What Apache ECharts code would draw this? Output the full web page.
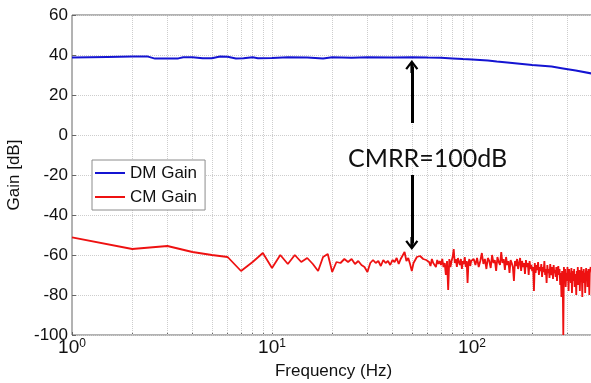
<!DOCTYPE html>
<html><head><meta charset="utf-8">
<script src="https://cdn.jsdelivr.net/npm/echarts@6/dist/echarts.min.js"></script>
<style>html,body{margin:0;padding:0;background:#fff}#c{width:591px;height:383px}</style>
</head><body><div id="c"></div>
<script>
// ---------- data ----------
const seriesNames = ['DM Gain', 'CM Gain'];

// DM gain (blue)
const blueFreq = [1, 1.5, 2, 2.4, 2.6, 3, 3.4, 3.6, 4, 4.5, 5, 5.5, 6, 6.6, 7.2, 8, 8.5, 10, 12, 15, 18, 20, 25, 30, 40, 50, 60, 70, 80, 90, 100, 120, 133, 150, 200, 250, 285, 330, 394];
const blueVals = [38.7, 39.0, 39.2, 39.2, 38.2, 38.2, 38.3, 38.9, 38.9, 38.4, 38.4, 39.2, 39.1, 38.3, 38.4, 38.9, 38.4, 38.5, 38.9, 38.7, 38.3, 38.9, 38.6, 38.9, 38.7, 38.9, 38.7, 38.6, 38.3, 38.0, 37.8, 37.2, 36.7, 36.3, 35.0, 34.2, 33.3, 32.3, 30.8];

// CM gain (red): 1 Hz steps from 1 to 100 Hz
const redLowStart = 1, redLowStep = 1;
const redLowVals = [
  -51.2, -57, -55.5, -58.5, -60, -61, -68, -63.5, -59, -66.5,
  -60, -64.5, -60, -63.5, -61.5, -64.5, -68, -61, -59.5, -68.5,
  -63.5, -64, -62, -63.5, -62, -64.5, -63, -65, -66, -68.5,
  -64, -62.5, -64, -63, -65.5, -62.5, -64, -63, -65, -62.5,
  -63.5, -61.5, -64.5, -62, -63, -58.5, -63, -61.5, -64.5, -68,
  -64, -62.5, -61, -62, -60.5, -61.5, -62, -61, -62.5, -61.5,
  -63.5, -65.5, -62, -64, -63, -66, -62.5, -64.5, -63, -65,
  -62, -66, -64, -70, -63, -77.5, -62, -66, -63, -61,
  -57, -64, -62, -66, -61.5, -63.5, -65, -62, -67, -63,
  -64.5, -61, -66, -63, -74, -64, -62, -65.5, -63, -64
];
// CM gain (red): 2 Hz steps from 102 to 394 Hz
const redHighStart = 102, redHighStep = 2;
const redHighVals = [
  -62, -65, -61.5, -66, -63, -59, -64.5, -62, -67, -61.5,
  -63, -66.5, -60, -64, -62.5, -68, -61, -63.5, -65, -58.5,
  -64, -62, -67.5, -61, -65, -63, -69, -62.5, -64, -66,
  -73, -63, -65.5, -62, -67, -64, -61.5, -68, -63, -66,
  -64, -69.5, -62.5, -66, -64, -70, -63, -67, -65, -68,
  -66, -78, -64, -69, -65, -67.5, -63.5, -70, -66, -68,
  -64.5, -71, -66, -68.5, -63, -70, -67, -74, -65, -69,
  -67, -71.5, -64.5, -68, -70, -66, -72, -65, -69, -67.5,
  -71, -66, -73, -68, -65.5, -70, -67, -75, -69, -81,
  -68, -72, -100, -66, -71, -67, -76, -69, -73, -66,
  -70, -78, -67, -72, -69, -74, -66.5, -79, -70, -68,
  -73, -67, -76, -69.5, -71, -80, -68, -72, -66, -75,
  -70, -67.5, -78, -69, -73, -66, -71, -81, -68, -72,
  -67, -74, -69, -79, -70, -66.5, -73, -68, -76, -71,
  -67, -72, -80, -69, -70, -66, -68
];

// axes
const xRange = [1, 412];
const yRange = [-100, 60];
const yInterval = 20;
const gridFreqs = [2, 3, 4, 5, 6, 7, 8, 9, 10, 20, 30, 40, 50, 60, 70, 80, 90, 100, 200, 300, 400];
const xTickFreqs = [1, 2, 3, 4, 5, 6, 7, 8, 9, 10, 20, 30, 40, 50, 60, 70, 80, 90, 100, 200, 300, 400];

// annotation
const cmrrText = 'CMRR=100dB';
const arrowFreq = 50;
const arrowUp = [6, 34.3];
const arrowDown = [-20, -54.3];
const cmrrLabelAt = [60, -11.75];

// ---------- build ----------
const FONT = '"Liberation Sans", Arial, sans-serif';
const blueData = blueFreq.map((f, i) => [f, blueVals[i]]);
const redData = [];
redLowVals.forEach((v, i) => redData.push([redLowStart + i * redLowStep, v]));
redHighVals.forEach((v, i) => redData.push([redHighStart + i * redHighStep, v]));

const chevron = 'path://M0,8.5 L6.5,0 L13,8.5 L11.2,9.8 L6.5,3.6 L1.8,9.8 Z M5.1,2 L7.9,2 L7.9,13 L5.1,13 Z';
const GRIDC = '#cdcdcd';

const chart = echarts.init(document.getElementById('c'), null, { renderer: 'canvas' });
chart.setOption({
  animation: false,
  backgroundColor: '#fff',
  grid: { left: 72, top: 15, right: -4, bottom: 48, outerBoundsMode: 'none', containLabel: false, show: true, borderColor: '#666', borderWidth: 1, backgroundColor: 'transparent' },
  legend: {
    data: seriesNames, orient: 'vertical', left: 92, top: 160,
    padding: [4, 8, 4, 3], itemGap: 6, itemWidth: 30, itemHeight: 2, icon: 'rect',
    backgroundColor: '#fff', borderColor: '#8c8c8c', borderWidth: 1, borderRadius: 0,
    textStyle: { fontFamily: FONT, fontSize: 17, color: '#111', lineHeight: 18 }
  },
  xAxis: {
    type: 'log', logBase: 10, min: xRange[0], max: xRange[1],
    name: 'Frequency (Hz)', nameLocation: 'middle', nameGap: 25,
    nameTextStyle: { fontFamily: FONT, fontSize: 17, color: '#111' },
    axisLine: { show: false, onZero: false },
    axisTick: { show: true, inside: true, length: 3, customValues: xTickFreqs, lineStyle: { color: '#666' } },
    splitLine: { show: false },
    axisLabel: {
      margin: 3,
      formatter: function (v) {
        const l = Math.log10(v), e = Math.round(l);
        if (Math.abs(l - e) > 1e-6) return '';
        return '{b|10}{e|' + e + '}';
      },
      rich: {
        b: { fontFamily: FONT, fontSize: 19, color: '#111', lineHeight: 20 },
        e: { fontFamily: FONT, fontSize: 12, color: '#111', verticalAlign: 'top', lineHeight: 12 }
      }
    }
  },
  yAxis: {
    type: 'value', min: yRange[0], max: yRange[1], interval: yInterval,
    name: 'Gain [dB]', nameLocation: 'middle', nameGap: 47,
    nameTextStyle: { fontFamily: FONT, fontSize: 17, color: '#111' },
    axisLine: { show: false, onZero: false },
    axisTick: { show: true, inside: true, length: 4, lineStyle: { color: '#666' } },
    axisLabel: { fontFamily: FONT, fontSize: 17, color: '#111', margin: 4 },
    splitLine: { show: true, lineStyle: { type: 'dotted', color: GRIDC, width: 1 } }
  },
  series: [
    {
      name: '_grid', type: 'line', data: [], silent: true, z: 1,
      markLine: {
        silent: true, symbol: 'none', animation: false, z: 1,
        label: { show: false },
        lineStyle: { type: 'dotted', color: GRIDC, width: 1 },
        emphasis: { disabled: true },
        data: gridFreqs.map(f => ({ xAxis: f }))
      }
    },
    {
      name: seriesNames[0], type: 'line', data: blueData, showSymbol: false, z: 3,
      lineStyle: { color: '#1414d2', width: 2 }, itemStyle: { color: '#1414d2' },
      markLine: {
        silent: true, animation: false, symbol: ['none', chevron], symbolSize: 13,
        label: { show: false },
        lineStyle: { color: '#000', width: 3, type: 'solid' },
        emphasis: { disabled: true },
        data: [
          [{ coord: [arrowFreq, arrowUp[0]] }, { coord: [arrowFreq, arrowUp[1]] }],
          [{ coord: [arrowFreq, arrowDown[0]] }, { coord: [arrowFreq, arrowDown[1]] }]
        ]
      },
      markPoint: {
        silent: true, animation: false, symbol: 'circle', symbolSize: 0,
        label: { show: true, position: 'inside', formatter: cmrrText, fontFamily: 'Lato, "Open Sans", sans-serif', fontSize: 25, color: '#111' },
        itemStyle: { color: 'transparent' },
        data: [{ coord: cmrrLabelAt }]
      }
    },
    {
      name: seriesNames[1], type: 'line', data: redData, showSymbol: false, z: 2,
      lineStyle: { color: '#ee1111', width: 1.8 }, itemStyle: { color: '#ee1111' }
    }
  ]
});
</script>
</body></html>
